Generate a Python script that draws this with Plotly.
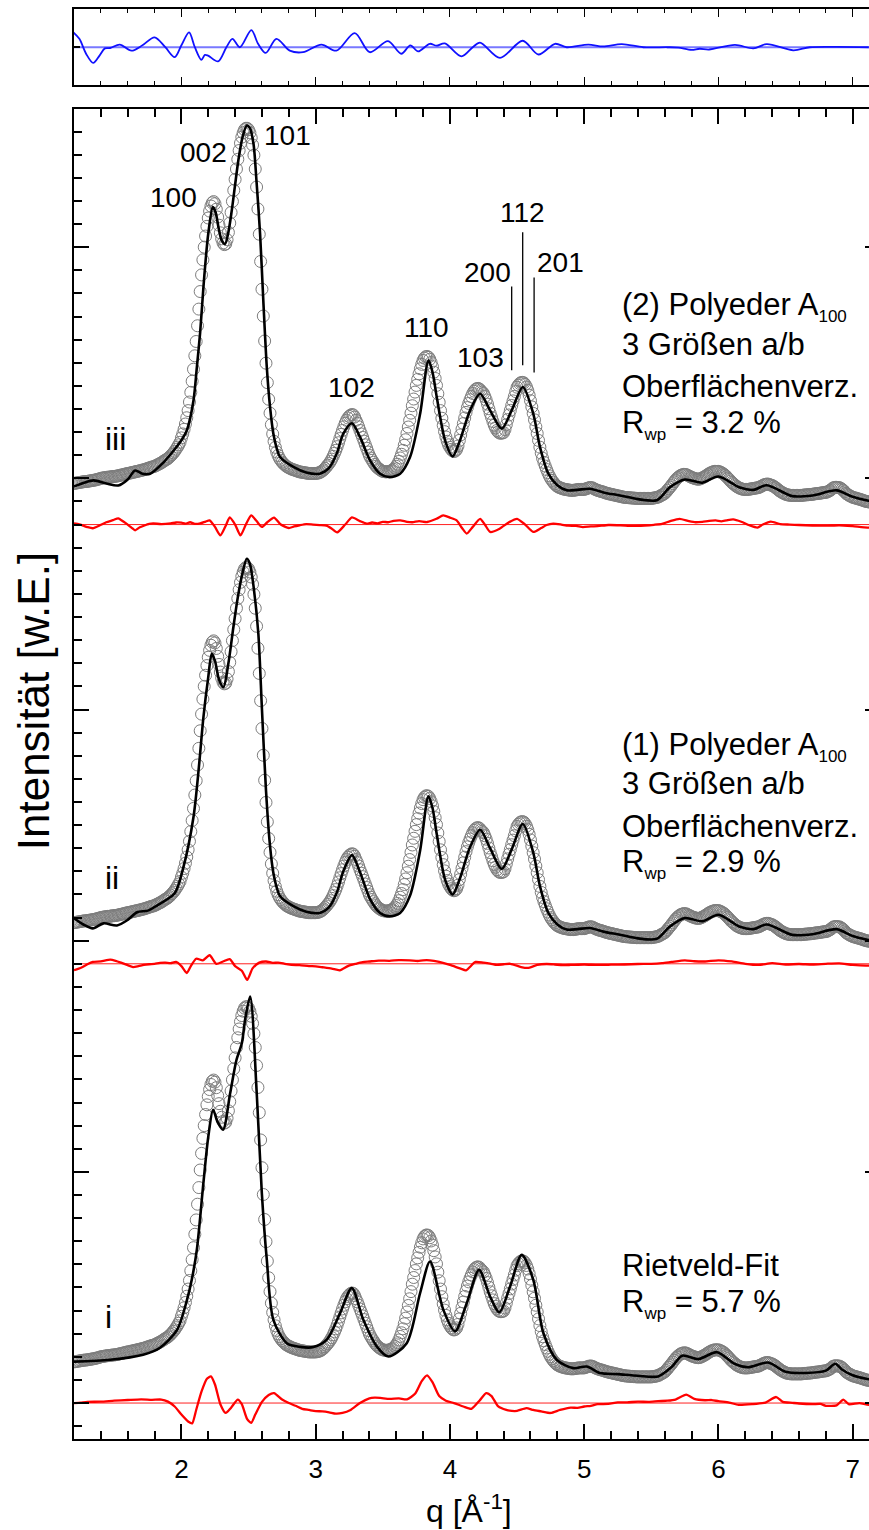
import plotly.graph_objects as go

FONT = "Arial, Liberation Sans, sans-serif"

# Measured pattern on a uniform q grid (the same data is stacked in all three panels)
Q_START, Q_STEP = 1.20, 0.01
OBS = [
    17.8, 17.9, 18.0, 18.1, 18.2, 18.3, 18.4, 18.5, 18.6, 18.6,
    18.7, 18.8, 18.9, 19.0, 19.1, 19.2, 19.3, 19.5, 19.6, 19.8,
    20.0, 20.1, 20.2, 20.3, 20.4, 20.5, 20.5, 20.6, 20.7, 20.8,
    20.8, 20.9, 21.0, 21.1, 21.3, 21.4, 21.5, 21.7, 21.8, 22.0,
    22.1, 22.2, 22.3, 22.5, 22.6, 22.7, 22.9, 23.0, 23.1, 23.3,
    23.4, 23.6, 23.7, 23.9, 24.1, 24.3, 24.5, 24.7, 24.9, 25.0,
    25.2, 25.5, 25.8, 26.1, 26.4, 26.7, 27.1, 27.5, 27.9, 28.2,
    28.6, 29.1, 29.7, 30.3, 31.0, 31.7, 32.6, 33.5, 34.5, 35.6,
    37.5, 39.2, 41.2, 43.5, 46.2, 49.3, 53.0, 57.2, 62.0, 67.2,
    73.0, 79.2, 86.0, 93.2, 100.8, 108.0, 114.5, 120.0, 124.8, 129.0,
    132.6, 135.6, 137.8, 139.2, 139.7, 138.8, 136.4, 133.0, 129.5, 126.2,
    123.6, 121.8, 121.1, 121.4, 123.2, 126.4, 130.4, 135.0, 139.8, 144.6,
    149.3, 153.8, 158.0, 161.8, 165.0, 167.6, 169.5, 170.8, 171.4, 171.4,
    170.8, 169.5, 167.3, 164.2, 159.8, 153.8, 146.0, 136.5, 125.6, 113.8,
    101.8, 90.2, 79.4, 69.8, 61.4, 54.2, 48.2, 43.2, 39.2, 36.0,
    33.4, 31.4, 29.9, 28.7, 27.8, 27.0, 26.4, 25.8, 25.3, 24.9,
    24.6, 24.3, 24.0, 23.8, 23.6, 23.4, 23.2, 23.0, 22.8, 22.7,
    22.6, 22.5, 22.4, 22.3, 22.2, 22.1, 22.1, 22.1, 22.1, 22.1,
    22.1, 22.2, 22.3, 22.5, 22.8, 23.2, 23.7, 24.3, 25.0, 25.7,
    26.4, 27.3, 28.3, 29.5, 30.8, 32.1, 33.7, 35.4, 37.2, 39.0,
    40.7, 42.3, 43.8, 45.1, 46.1, 46.8, 47.3, 47.6, 47.4, 46.5,
    45.1, 43.8, 42.3, 40.7, 39.2, 37.7, 36.1, 34.5, 33.0, 31.4,
    29.9, 28.8, 27.8, 26.9, 26.0, 25.2, 24.6, 24.1, 23.7, 23.3,
    23.0, 22.9, 22.8, 22.8, 22.9, 23.0, 23.2, 23.5, 23.9, 24.5,
    25.2, 26.1, 27.3, 28.8, 30.4, 32.1, 34.3, 36.7, 39.4, 42.2,
    45.1, 48.2, 51.4, 54.3, 57.3, 60.2, 62.8, 65.2, 67.4, 69.3,
    71.0, 72.0, 72.6, 72.7, 72.4, 71.5, 70.1, 68.3, 65.9, 63.2,
    60.2, 56.6, 52.9, 49.3, 46.0, 42.9, 40.2, 37.9, 36.0, 34.5,
    33.4, 32.5, 31.9, 31.6, 31.8, 32.5, 34.0, 36.4, 38.8, 41.3,
    43.7, 46.1, 48.5, 50.6, 52.4, 54.0, 55.4, 56.7, 57.7, 58.4,
    58.8, 58.9, 58.6, 57.9, 57.3, 56.7, 55.4, 53.9, 52.1, 50.1,
    48.1, 46.4, 44.6, 43.0, 41.8, 40.7, 40.0, 39.6, 39.5, 39.6,
    39.8, 41.1, 43.2, 45.4, 47.4, 49.4, 51.5, 53.5, 55.4, 57.5,
    59.4, 60.3, 61.0, 61.4, 61.5, 61.3, 60.6, 59.5, 58.0, 56.0,
    53.6, 50.9, 48.1, 45.3, 42.3, 39.4, 36.4, 33.5, 30.9, 28.7,
    26.9, 25.3, 23.8, 22.4, 21.1, 20.0, 19.1, 18.3, 17.6, 17.0,
    16.5, 16.2, 15.9, 15.7, 15.5, 15.3, 15.2, 15.1, 15.0, 14.9,
    14.8, 14.8, 14.8, 14.9, 15.0, 15.1, 15.2, 15.2, 15.2, 15.2,
    15.2, 15.4, 15.6, 15.8, 16.0, 16.0, 15.9, 15.6, 15.3, 15.0,
    14.8, 14.6, 14.4, 14.3, 14.1, 13.9, 13.7, 13.5, 13.4, 13.2,
    13.1, 13.0, 12.8, 12.7, 12.6, 12.4, 12.3, 12.2, 12.0, 11.9,
    11.8, 11.7, 11.7, 11.6, 11.6, 11.5, 11.5, 11.4, 11.4, 11.3,
    11.3, 11.3, 11.3, 11.3, 11.3, 11.3, 11.3, 11.3, 11.3, 11.3,
    11.3, 11.4, 11.5, 11.6, 11.7, 11.9, 12.1, 12.5, 12.8, 13.1,
    13.5, 14.1, 14.8, 15.5, 16.2, 16.9, 17.7, 18.5, 19.2, 19.9,
    20.4, 20.9, 21.3, 21.5, 21.7, 21.7, 21.6, 21.3, 21.0, 20.7,
    20.4, 20.2, 20.0, 19.8, 19.7, 19.6, 19.7, 19.9, 20.2, 20.5,
    20.8, 21.2, 21.6, 22.0, 22.3, 22.6, 22.8, 23.0, 23.0, 23.0,
    23.0, 22.8, 22.5, 22.2, 21.8, 21.3, 20.7, 20.1, 19.5, 18.8,
    18.2, 17.7, 17.2, 16.7, 16.3, 16.0, 15.7, 15.5, 15.3, 15.2,
    15.2, 15.2, 15.2, 15.3, 15.4, 15.5, 15.6, 15.7, 15.8, 15.9,
    16.0, 16.3, 16.6, 16.9, 17.2, 17.4, 17.5, 17.5, 17.3, 17.1,
    16.9, 16.6, 16.2, 15.8, 15.3, 14.8, 14.4, 14.0, 13.7, 13.4,
    13.1, 12.9, 12.8, 12.7, 12.6, 12.6, 12.6, 12.6, 12.6, 12.6,
    12.6, 12.6, 12.6, 12.7, 12.8, 12.8, 12.9, 12.9, 13.0, 13.0,
    13.1, 13.2, 13.3, 13.4, 13.4, 13.5, 13.6, 13.7, 13.8, 13.9,
    13.9, 14.1, 14.4, 14.7, 15.1, 15.7, 16.0, 16.1, 16.1, 16.0,
    16.0, 15.7, 15.3, 14.8, 14.2, 13.5, 13.1, 12.7, 12.4, 12.1,
    11.8, 11.6, 11.5, 11.3, 11.1, 11.0, 10.8, 10.6, 10.4, 10.2,
    10.0, 9.9, 9.8, 9.7, 9.6, 9.5, 9.5, 9.4, 9.4, 9.3,
]
q_obs = [round(Q_START + k * Q_STEP, 2) for k in range(len(OBS))]

# Calculated patterns, (q, intensity)
FIT_III = [
    (1.20, 16.5), (1.27, 18.0), (1.345, 19.1), (1.44, 17.8), (1.53, 16.9), (1.60, 19.5),
    (1.655, 23.4), (1.71, 22.0), (1.767, 22.0), (1.86, 26.5), (1.953, 32.8), (2.00, 36.5),
    (2.04, 40.7), (2.09, 53.7), (2.115, 68.0), (2.139, 82.7), (2.164, 102.7), (2.18, 114.0),
    (2.20, 125.8), (2.234, 137.3), (2.255, 135.0), (2.276, 128.6), (2.30, 123.0), (2.325, 121.4),
    (2.35, 126.5), (2.375, 135.8), (2.40, 147.0), (2.424, 157.5), (2.455, 167.5), (2.487, 172.6),
    (2.51, 171.5), (2.537, 164.7), (2.56, 148.0), (2.586, 125.8), (2.61, 97.0), (2.636, 68.1),
    (2.66, 51.0), (2.685, 39.3), (2.71, 33.0), (2.735, 29.2), (2.834, 24.9), (2.93, 22.5),
    (3.03, 22.0), (3.10, 24.5), (3.157, 30.7), (3.206, 39.3), (3.27, 43.8), (3.331, 37.8),
    (3.405, 27.8), (3.48, 22.0), (3.55, 20.5), (3.629, 22.0), (3.703, 29.2), (3.778, 47.9),
    (3.84, 71.0), (3.87, 66.0), (3.902, 55.1), (3.964, 36.4), (4.02, 29.5), (4.075, 36.4),
    (4.15, 49.4), (4.225, 56.6), (4.299, 49.4), (4.386, 41.5), (4.46, 49.4), (4.543, 59.5),
    (4.621, 47.9), (4.671, 33.5), (4.733, 22.0), (4.80, 17.0), (4.87, 14.8), (4.95, 15.0),
    (5.044, 15.5), (5.15, 13.8), (5.267, 12.6), (5.40, 11.0), (5.54, 10.5), (5.64, 16.2),
    (5.75, 19.5), (5.88, 18.1), (6.00, 20.8), (6.16, 16.0), (6.26, 15.0), (6.36, 17.0),
    (6.55, 12.3), (6.70, 12.6), (6.88, 14.8), (7.00, 12.0), (7.10, 10.5), (7.20, 9.5),
]
FIT_II = [
    (1.20, 19.7), (1.27, 17.0), (1.34, 15.3), (1.42, 17.5), (1.52, 16.6), (1.60, 19.0),
    (1.67, 22.3), (1.75, 23.0), (1.82, 25.3), (1.95, 30.5), (2.015, 41.8), (2.09, 63.5),
    (2.13, 85.0), (2.164, 106.7), (2.20, 124.0), (2.226, 134.1), (2.25, 131.0), (2.28, 123.0),
    (2.313, 119.7), (2.35, 130.0), (2.387, 145.6), (2.42, 158.5), (2.455, 169.0), (2.487, 175.2),
    (2.51, 173.0), (2.54, 162.0), (2.573, 142.8), (2.60, 110.0), (2.63, 75.0), (2.66, 51.0),
    (2.685, 39.3), (2.71, 33.0), (2.735, 29.2), (2.834, 24.9), (2.93, 22.5), (3.03, 22.0),
    (3.10, 24.5), (3.157, 30.7), (3.206, 40.0), (3.27, 47.0), (3.331, 39.5), (3.405, 28.0),
    (3.48, 22.0), (3.55, 20.5), (3.629, 22.0), (3.703, 29.5), (3.778, 49.0), (3.84, 72.5),
    (3.87, 67.5), (3.902, 56.0), (3.964, 36.4), (4.02, 30.0), (4.075, 37.0), (4.15, 50.5),
    (4.225, 58.0), (4.299, 50.0), (4.386, 41.0), (4.46, 49.5), (4.543, 60.5), (4.621, 48.0),
    (4.671, 33.5), (4.733, 22.0), (4.80, 17.0), (4.87, 14.8), (4.95, 15.0), (5.044, 15.5),
    (5.15, 13.8), (5.267, 12.6), (5.40, 11.0), (5.54, 10.8), (5.64, 16.2), (5.75, 19.8),
    (5.88, 18.4), (6.00, 21.2), (6.16, 16.0), (6.26, 15.0), (6.36, 17.0), (6.55, 12.5),
    (6.70, 12.8), (6.88, 15.0), (7.00, 12.0), (7.10, 10.5), (7.20, 9.5),
]
FIT_I = [
    (1.20, 17.9), (1.469, 18.7), (1.715, 20.9), (1.841, 23.9), (1.968, 31.7), (2.042, 44.7),
    (2.077, 53.3), (2.115, 66.3), (2.164, 95.3), (2.20, 115.1), (2.236, 126.8), (2.27, 121.5),
    (2.31, 118.2), (2.363, 134.0), (2.41, 148.4), (2.45, 155.6), (2.474, 165.7), (2.512, 175.8),
    (2.561, 134.0), (2.599, 90.8), (2.636, 62.0), (2.685, 36.0), (2.785, 25.9), (2.883, 24.3),
    (2.983, 24.2), (3.083, 27.4), (3.182, 38.9), (3.269, 49.7), (3.355, 36.0), (3.455, 24.5),
    (3.542, 20.1), (3.678, 25.9), (3.778, 47.6), (3.852, 61.2), (3.951, 40.3), (4.038, 31.0),
    (4.125, 43.2), (4.217, 57.6), (4.299, 46.1), (4.368, 39.2), (4.448, 50.4), (4.535, 64.1),
    (4.621, 53.3), (4.696, 30.3), (4.796, 18.7), (4.919, 15.1), (5.019, 15.8), (5.118, 13.0),
    (5.25, 12.5), (5.40, 11.8), (5.55, 11.5), (5.65, 15.5), (5.73, 20.5), (5.85, 19.0),
    (5.99, 22.0), (6.12, 17.0), (6.22, 15.5), (6.37, 17.5), (6.50, 13.5), (6.65, 13.0),
    (6.80, 14.0), (6.87, 17.0), (6.92, 14.5), (7.00, 12.0), (7.10, 10.5), (7.20, 9.8),
]

# Difference curves (observed - calculated), (q, value)
DIFF_III = [
    (1.20, 0.5), (1.24, 0.1), (1.27, -0.5), (1.30, -1.1), (1.34, -1.6), (1.39, -0.4),
    (1.44, 1.0), (1.49, 1.9), (1.53, 2.7), (1.57, 1.2), (1.60, 0.0), (1.63, -1.4),
    (1.655, -2.5), (1.69, -1.2), (1.72, -0.5), (1.76, 0.3), (1.79, 0.5), (1.85, 0.2),
    (1.92, 0.5), (1.96, 0.9), (2.00, 0.8), (2.03, 0.4), (2.065, 1.0), (2.10, 0.3),
    (2.14, 0.5), (2.18, 1.3), (2.21, 1.8), (2.25, -1.0), (2.29, -4.7), (2.33, -0.5),
    (2.36, 3.1), (2.40, 0.0), (2.44, -4.7), (2.48, 0.0), (2.52, 4.0), (2.56, 1.5),
    (2.60, -1.0), (2.64, 1.0), (2.69, 3.0), (2.74, 0.0), (2.80, -1.5), (2.84, -0.8),
    (2.88, -0.3), (2.93, 0.2), (2.98, 0.0), (3.03, -0.2), (3.08, -0.5), (3.12, -1.8),
    (3.16, -3.4), (3.22, 0.0), (3.27, 3.1), (3.33, 1.5), (3.38, 0.4), (3.42, 0.9),
    (3.46, 0.5), (3.50, 1.2), (3.54, 1.0), (3.58, 1.6), (3.63, 1.8), (3.68, 1.2),
    (3.72, 1.0), (3.77, 1.5), (3.83, 1.1), (3.90, 2.5), (3.95, 4.0), (4.00, 3.0),
    (4.05, 1.8), (4.09, -1.5), (4.125, -3.9), (4.17, -1.0), (4.225, 2.5), (4.26, 0.0),
    (4.30, -3.2), (4.37, -1.8), (4.44, 1.0), (4.50, 2.5), (4.56, 0.0), (4.62, -3.2),
    (4.68, -1.5), (4.72, -0.2), (4.77, 0.4), (4.83, 0.0), (4.88, -0.5), (4.94, -0.6),
    (4.99, -1.1), (5.05, -0.8), (5.10, -0.7), (5.18, -0.2), (5.27, -0.3), (5.36, -0.6),
    (5.45, -0.4), (5.52, -0.1), (5.58, 0.3), (5.64, 1.5), (5.71, 2.5), (5.78, 1.5),
    (5.83, 1.0), (5.88, 1.2), (5.93, 1.6), (5.98, 1.8), (6.02, 1.4), (6.06, 1.8),
    (6.11, 2.2), (6.17, 1.2), (6.23, -0.3), (6.29, -1.3), (6.33, 0.0), (6.39, 1.3),
    (6.46, 0.2), (6.53, 0.0), (6.60, -0.2), (6.70, -0.4), (6.80, -0.5), (6.90, -0.3),
    (7.00, -0.7), (7.11, -1.3), (7.20, -1.0),
]
DIFF_II = [
    (1.20, -2.8), (1.23, -2.2), (1.26, -1.5), (1.30, -0.2), (1.34, 0.8), (1.40, 1.0),
    (1.47, 1.8), (1.51, 1.3), (1.55, 0.5), (1.60, -0.6), (1.64, -1.4), (1.68, -1.0),
    (1.72, -0.5), (1.76, -0.2), (1.80, 0.0), (1.84, 0.4), (1.88, 0.5), (1.92, 0.3),
    (1.96, 0.8), (2.00, -1.0), (2.04, -4.0), (2.07, -1.0), (2.11, 2.2), (2.16, 1.5),
    (2.21, 3.7), (2.26, 0.0), (2.31, 1.0), (2.36, 2.0), (2.40, -1.0), (2.45, -3.0),
    (2.49, -7.0), (2.53, -2.0), (2.58, 0.5), (2.63, 1.0), (2.68, 0.4), (2.72, 0.5),
    (2.77, 0.0), (2.82, -0.5), (2.88, -0.6), (2.95, -1.0), (3.00, -1.1), (3.05, -1.5),
    (3.12, -2.1), (3.18, -2.8), (3.24, -1.0), (3.30, 0.0), (3.35, 0.7), (3.40, 1.0),
    (3.47, 1.4), (3.55, 1.3), (3.62, 1.6), (3.70, 1.5), (3.76, 1.2), (3.80, 1.5),
    (3.85, 1.5), (3.92, 0.8), (4.00, -0.5), (4.08, -2.1), (4.12, -2.8), (4.19, 0.8),
    (4.25, 0.5), (4.30, 0.1), (4.35, -0.5), (4.40, -0.2), (4.45, 0.0), (4.53, -1.4),
    (4.58, -1.8), (4.65, -0.5), (4.72, -0.1), (4.78, -0.3), (4.84, -0.6), (4.90, -0.5),
    (5.00, -0.3), (5.10, -0.5), (5.20, -0.4), (5.30, -0.3), (5.40, -0.1), (5.50, 0.0),
    (5.58, 0.3), (5.65, 0.8), (5.75, 1.5), (5.82, 1.1), (5.90, 1.0), (6.00, 1.5),
    (6.10, 1.0), (6.20, 0.0), (6.30, -0.5), (6.40, 0.3), (6.50, -0.3), (6.60, -0.1),
    (6.70, -0.3), (6.80, 0.0), (6.90, 0.2), (7.00, -0.5), (7.10, -0.8), (7.20, -0.5),
]
DIFF_I = [
    (1.20, 0.0), (1.25, 0.2), (1.30, 0.5), (1.40, 0.6), (1.50, 1.0), (1.60, 1.3),
    (1.70, 1.6), (1.78, 1.4), (1.85, 1.5), (1.90, 0.6), (1.95, -1.5), (2.00, -5.0),
    (2.05, -8.0), (2.08, -8.8), (2.11, -3.0), (2.15, 5.0), (2.19, 10.5), (2.22, 11.5),
    (2.25, 8.0), (2.29, -0.5), (2.33, -4.3), (2.37, -2.0), (2.42, 1.5), (2.45, -0.5),
    (2.49, -7.0), (2.52, -8.6), (2.55, -5.0), (2.60, 0.5), (2.65, 3.5), (2.69, 4.3),
    (2.75, 1.5), (2.80, 0.0), (2.85, -1.2), (2.90, -2.5), (2.95, -3.0), (3.00, -3.5),
    (3.05, -3.6), (3.10, -4.0), (3.15, -4.6), (3.20, -4.3), (3.26, -3.0), (3.33, 0.0),
    (3.40, 2.0), (3.44, 2.3), (3.48, 2.2), (3.55, 1.8), (3.62, 2.0), (3.68, 1.6),
    (3.74, 4.0), (3.79, 9.5), (3.83, 12.0), (3.87, 9.0), (3.92, 3.0), (3.97, 1.0),
    (4.03, 0.0), (4.10, -1.5), (4.16, -2.5), (4.22, 1.0), (4.27, 4.3), (4.31, 3.0),
    (4.36, -1.5), (4.42, -3.0), (4.46, -3.4), (4.50, -3.4), (4.57, -2.2), (4.62, -3.0),
    (4.68, -3.6), (4.75, -4.3), (4.82, -3.0), (4.90, -2.0), (4.95, -2.1), (5.00, -1.5),
    (5.05, -1.2), (5.10, -0.5), (5.18, -0.4), (5.25, 0.3), (5.32, 0.3), (5.40, 0.6),
    (5.48, 0.5), (5.55, 0.8), (5.62, 1.0), (5.68, 1.5), (5.76, 3.6), (5.82, 1.8),
    (5.90, 1.2), (5.95, 1.3), (6.00, 0.8), (6.08, 0.2), (6.15, -0.8), (6.25, -0.5),
    (6.35, 0.2), (6.43, 2.6), (6.48, 0.5), (6.55, 0.1), (6.60, -0.2), (6.70, -0.5),
    (6.76, -0.4), (6.80, -1.2), (6.88, -1.0), (6.93, 1.5), (6.97, -0.5), (7.05, 0.0),
    (7.12, -0.8), (7.20, 0.0),
]

# Difference shown in the narrow top panel, (q, value)
DIFF_TOP = [
    (1.195, 0.39), (1.24, 0.22), (1.29, -0.17), (1.343, -0.41), (1.39, -0.22), (1.43, -0.03),
    (1.47, -0.02), (1.541, 0.07), (1.628, -0.09), (1.71, 0.05), (1.80, 0.26), (1.88, 0.0),
    (1.95, -0.26), (2.00, 0.05), (2.057, 0.39), (2.10, 0.0), (2.149, -0.33), (2.175, -0.2),
    (2.199, -0.22), (2.273, -0.37), (2.335, 0.0), (2.38, 0.22), (2.435, 0.0), (2.521, 0.45),
    (2.571, 0.09), (2.628, -0.15), (2.708, 0.22), (2.807, -0.09), (2.906, -0.13), (3.043, 0.07),
    (3.154, -0.09), (3.291, 0.37), (3.403, -0.13), (3.539, 0.16), (3.638, -0.17), (3.705, 0.05),
    (3.763, -0.11), (3.85, 0.09), (3.90, 0.04), (3.962, 0.10), (4.086, -0.24), (4.17, 0.0),
    (4.224, 0.12), (4.373, -0.28), (4.542, 0.17), (4.659, -0.19), (4.783, 0.09), (4.87, 0.0),
    (5.031, 0.07), (5.14, 0.02), (5.28, 0.08), (5.44, 0.0), (5.62, 0.0), (5.70, -0.01),
    (5.80, -0.07), (5.86, -0.04), (5.93, -0.06), (6.123, 0.06), (6.26, -0.03), (6.36, 0.08),
    (6.558, -0.08), (6.68, 0.0), (6.88, 0.01), (7.12, 0.0),
]

# Vertical stacking of the three panels
OFFSETS = {"i": 0, "ii": 190, "iii": 380}
FITS = {"i": FIT_I, "ii": FIT_II, "iii": FIT_III}
DIFFS = {"i": DIFF_I, "ii": DIFF_II, "iii": DIFF_III}

# Reflection positions marked above the 200/112/201 group
REFLEXES = [("200", 4.46, 446.7, 483.0), ("112", 4.542, 448.9, 506.4), ("201", 4.627, 445.8, 486.9)]

Q_RANGE = [1.2, 7.1214]
Y_RANGE = [-15.56, 559.87]

fig = go.Figure()

for panel in ("iii", "ii", "i"):
    off = OFFSETS[panel]
    dq, dv = zip(*DIFFS[panel])
    fig.add_trace(go.Scatter(
        x=list(dq), y=[off + v for v in dv], mode="lines",
        line=dict(color="#ff0000", width=2.3, shape="spline", smoothing=0.6),
        xaxis="x", yaxis="y", hoverinfo="skip"))
    fig.add_trace(go.Scatter(
        x=q_obs, y=[off + v for v in OBS], mode="markers",
        marker=dict(symbol="circle-open", size=12, color="#7d7d7d", line=dict(width=1)),
        xaxis="x", yaxis="y", hoverinfo="skip"))
    fq, fv = zip(*FITS[panel])
    fig.add_trace(go.Scatter(
        x=list(fq), y=[off + v for v in fv], mode="lines",
        line=dict(color="#000000", width=2.6, shape="spline", smoothing=0.8),
        xaxis="x", yaxis="y", hoverinfo="skip"))

tq, tv = zip(*DIFF_TOP)
fig.add_trace(go.Scatter(
    x=list(tq), y=list(tv), mode="lines",
    line=dict(color="#1010ff", width=1.8, shape="spline", smoothing=0.9),
    xaxis="x2", yaxis="y2", hoverinfo="skip"))

# empty trace so the right-hand tick stubs get drawn
fig.add_trace(go.Scatter(x=[None], y=[None], xaxis="x", yaxis="y3", showlegend=False, hoverinfo="skip"))

shapes = []
for panel, off in OFFSETS.items():
    shapes.append(dict(type="line", xref="x domain", yref="y", x0=0, x1=1, y0=off, y1=off,
                       line=dict(color="#ff2020", width=1), layer="below"))
shapes.append(dict(type="line", xref="x2 domain", yref="y2", x0=0, x1=1, y0=0, y1=0,
                   line=dict(color="#7878ff", width=2), layer="below"))
for _, q, y0, y1 in REFLEXES:
    shapes.append(dict(type="line", xref="x", yref="y", x0=q, x1=q, y0=y0, y1=y1,
                       line=dict(color="#000000", width=1.3)))

annotations = []


def label(text, x, y, size, xanchor="center", xref="x", yref="y", angle=0):
    annotations.append(dict(text=text, x=x, y=y, xref=xref, yref=yref, showarrow=False,
                            xanchor=xanchor, yanchor="middle", textangle=angle,
                            font=dict(family=FONT, size=size, color="#000000")))


for hkl, q, y in [("100", 1.942, 521.5), ("002", 2.165, 540.8), ("101", 2.791, 548.3),
                  ("102", 3.268, 439.4), ("110", 3.826, 465.3), ("103", 4.224, 452.4),
                  ("200", 4.28, 489.2), ("112", 4.537, 515.1), ("201", 4.82, 493.5)]:
    label(hkl, q, y, 28)

for panel, name in (("iii", "iii"), ("ii", "ii"), ("i", "i")):
    label(name, 1.417, OFFSETS[panel] + 37, 32, xanchor="left")

SUB = '<sub><span style="font-size:17px">{}</span></sub>'
TEXT_X = 5.268
for panel, model, rwp in (("iii", "(2)", "3.2"), ("ii", "(1)", "2.9")):
    off = OFFSETS[panel]
    label(model + " Polyeder A" + SUB.format("100"), TEXT_X, off + 94.2, 31, xanchor="left")
    label("3 Größen a/b", TEXT_X, off + 77.8, 31, xanchor="left")
    label("Oberflächenverz.", TEXT_X, off + 59.6, 31, xanchor="left")
    label("R" + SUB.format("wp") + " = " + rwp + " %", TEXT_X, off + 43.2, 31, xanchor="left")
label("Rietveld-Fit", TEXT_X, OFFSETS["i"] + 59.6, 31, xanchor="left")
label("R" + SUB.format("wp") + " = 5.7 %", TEXT_X, OFFSETS["i"] + 43.2, 31, xanchor="left")

label("Intensität [w.E.]", -0.0514, 0.516, 44, xref="paper", yref="paper", angle=-90)
label("q [Å<sup>-1</sup>]", 0.497, -0.0487, 32, xref="paper", yref="paper")

axis_common = dict(showline=True, linecolor="#000000", linewidth=2, showgrid=False,
                   zeroline=False, ticks="inside", tickcolor="#000000")

fig.update_layout(
    width=869, height=1530,
    margin=dict(l=73.9, r=0, t=8.5, b=90.7),
    paper_bgcolor="#ffffff", plot_bgcolor="#ffffff",
    showlegend=False,
    font=dict(family=FONT, color="#000000"),
    xaxis=dict(**axis_common, domain=[0, 1], range=Q_RANGE, anchor="y", mirror="ticks",
               tick0=0, dtick=1, ticklen=15, tickwidth=1.5,
               tickfont=dict(family=FONT, size=26, color="#000000"), ticklabelstandoff=6,
               minor=dict(ticks="inside", dtick=0.2, tick0=0, ticklen=8, tickwidth=1.5,
                          tickcolor="#000000", showgrid=False)),
    yaxis=dict(**axis_common, domain=[0, 0.93025], range=Y_RANGE, anchor="x",
               tick0=0, dtick=100, ticklen=15, tickwidth=1.5, showticklabels=False,
               minor=dict(ticks="inside", dtick=10, tick0=0, ticklen=8, tickwidth=1.5,
                          tickcolor="#000000", showgrid=False)),
    yaxis3=dict(overlaying="y", side="right", range=Y_RANGE, showline=False, showgrid=False,
                zeroline=False, ticks="inside", tick0=0, dtick=100, ticklen=4, tickwidth=1.5,
                tickcolor="#000000", showticklabels=False),
    xaxis2=dict(**axis_common, domain=[0, 1], range=Q_RANGE, anchor="y2", mirror="ticks",
                tick0=0, dtick=1, ticklen=8, tickwidth=1.3, showticklabels=False,
                minor=dict(ticks="inside", dtick=0.2, tick0=0, ticklen=4, tickwidth=1.3,
                           tickcolor="#000000", showgrid=False)),
    yaxis2=dict(**axis_common, domain=[0.94653, 1], range=[-1, 1], anchor="x2",
                tickvals=[0], ticklen=6, tickwidth=2, showticklabels=False),
    shapes=shapes,
    annotations=annotations,
)

fig.write_html("out.html")
